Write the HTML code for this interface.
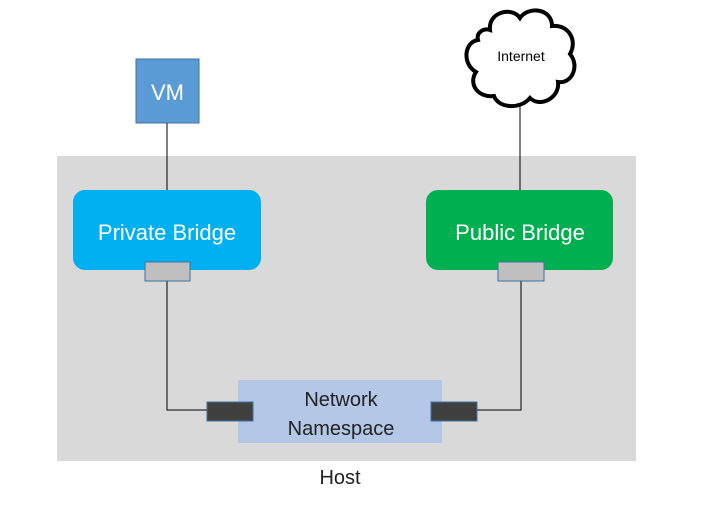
<!DOCTYPE html>
<html><head><style>
html,body{margin:0;padding:0;background:#fff;}
svg{display:block;}
text{font-family:"Liberation Sans","Noto Sans CJK SC",sans-serif;}
</style></head><body>
<svg width="711" height="508" viewBox="0 0 711 508" xmlns="http://www.w3.org/2000/svg">
<rect x="57" y="156" width="579" height="305" fill="#d9d9d9"/>
<line x1="167" y1="123" x2="167" y2="190" stroke="#000" stroke-width="1"/>
<line x1="520" y1="105" x2="520" y2="190" stroke="#000" stroke-width="1"/>
<rect x="136" y="59" width="63" height="64" fill="#5b9bd5" stroke="#41719c" stroke-width="1"/>
<text x="167.5" y="100" font-size="22" fill="#fff" text-anchor="middle">VM</text>
<path d="M490,30 C488,12 512,6 520,18 C528,6 552,8 552,26 C568,24 578,40 570,54 C580,66 572,84 558,82 C560,98 540,108 530,98 C520,110 498,108 494,96 C478,98 468,84 476,72 C462,64 464,42 478,40 C476,32 484,28 490,30 Z" fill="#fff" stroke="#000" stroke-width="4"/>
<text x="521" y="61" font-size="14" fill="#000" text-anchor="middle">Internet</text>
<rect x="73" y="190" width="188" height="80" rx="12" fill="#00b0f0"/>
<text x="167" y="240" font-size="22" fill="#fff" text-anchor="middle">Private Bridge</text>
<rect x="426" y="190" width="187" height="80" rx="12" fill="#00b050"/>
<text x="520" y="240" font-size="22" fill="#fff" text-anchor="middle">Public Bridge</text>
<polyline points="167,281 167,410 207,410" fill="none" stroke="#000" stroke-width="1"/>
<polyline points="521,281 521,410 477,410" fill="none" stroke="#000" stroke-width="1"/>
<rect x="145" y="262" width="45" height="19" fill="#bfbfbf" stroke="#41719c" stroke-width="1"/>
<rect x="498" y="262" width="46" height="19" fill="#bfbfbf" stroke="#41719c" stroke-width="1"/>
<rect x="238" y="380" width="204" height="63" fill="#b4c7e7"/>
<text x="341" y="406" font-size="20" fill="#222" text-anchor="middle">Network</text>
<text x="341" y="435" font-size="20" fill="#222" text-anchor="middle">Namespace</text>
<rect x="207" y="402" width="46" height="19" fill="#404040" stroke="#41719c" stroke-width="1"/>
<rect x="431" y="402" width="46" height="19" fill="#404040" stroke="#41719c" stroke-width="1"/>
<text x="340" y="484" font-size="20" fill="#222" text-anchor="middle">Host</text>
</svg>
</body></html>
